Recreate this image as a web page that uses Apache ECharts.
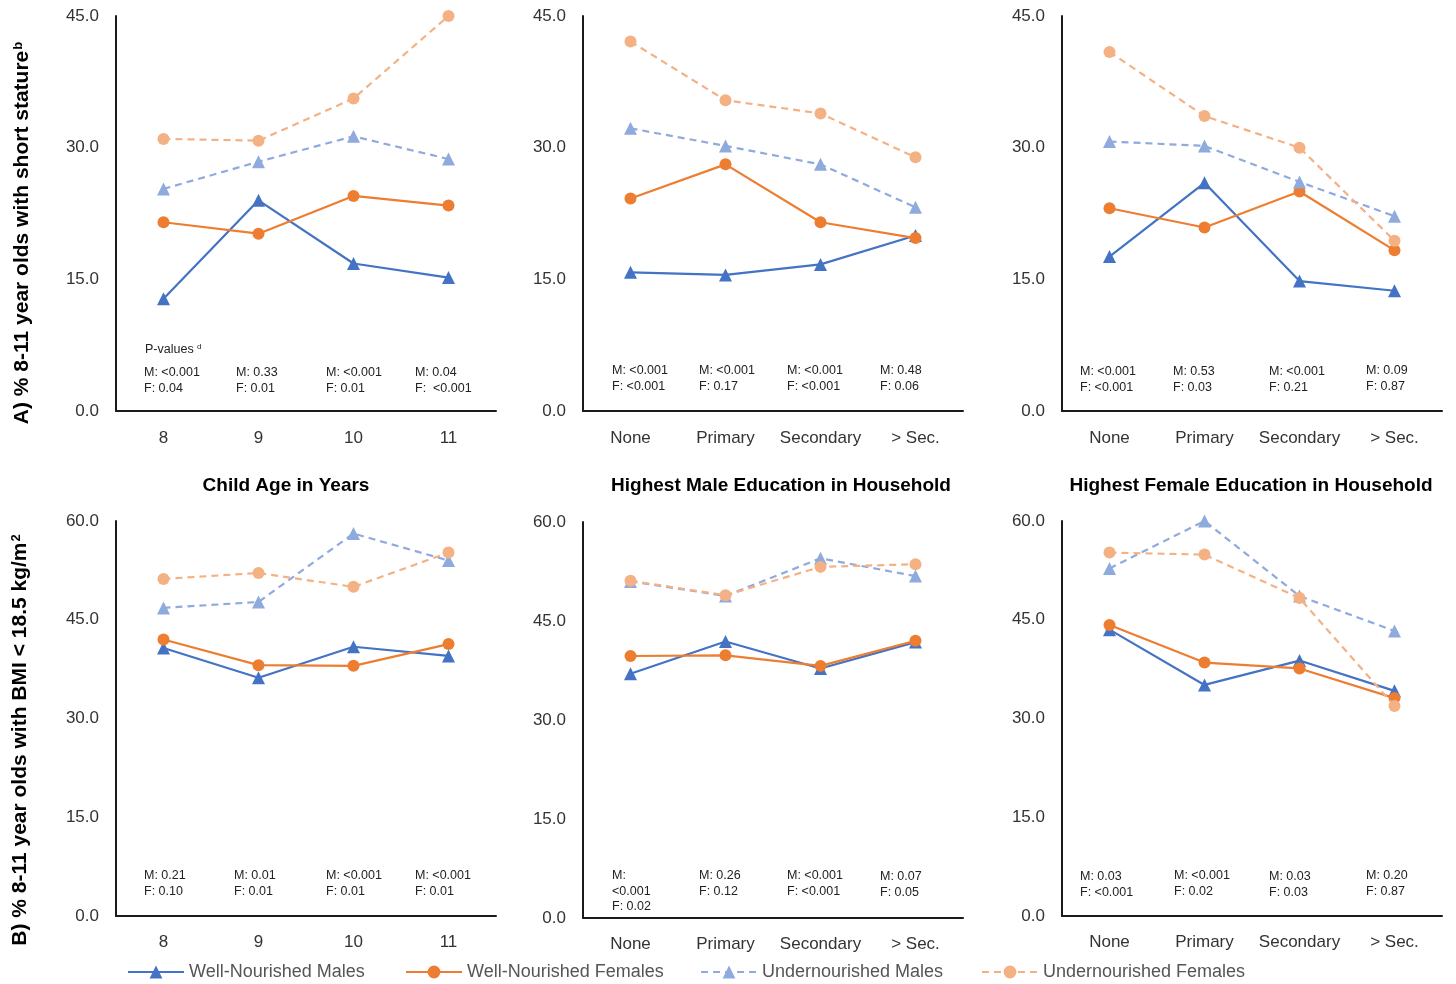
<!DOCTYPE html>
<html>
<head>
<meta charset="utf-8">
<script src="https://cdn.jsdelivr.net/npm/echarts@6/dist/echarts.min.js"></script>
<style>
html,body{margin:0;padding:0;background:#fff;}
#c{width:1456px;height:984px;}
</style>
</head>
<body>
<div id="c"></div>
<script>
// ---------- DATA ----------
const ageCats = ['8', '9', '10', '11'];
const eduCats = ['None', 'Primary', 'Secondary', '> Sec.'];
const seriesNames = ['Well-Nourished Males', 'Well-Nourished Females', 'Undernourished Males', 'Undernourished Females'];

const yTicksA = [0, 15, 30, 45];
const yTicksB = [0, 15, 30, 45, 60];

// A) short stature
const ssAge_WM = [12.8, 24.0, 16.8, 15.2];
const ssAge_WF = [21.5, 20.2, 24.5, 23.4];
const ssAge_UM = [25.3, 28.4, 31.3, 28.7];
const ssAge_UF = [31.0, 30.8, 35.6, 45.0];

const ssMale_WM = [15.8, 15.5, 16.7, 20.0];
const ssMale_WF = [24.2, 28.1, 21.5, 19.7];
const ssMale_UM = [32.2, 30.2, 28.1, 23.2];
const ssMale_UF = [42.1, 35.4, 33.9, 28.9];

const ssFem_WM = [17.6, 26.0, 14.8, 13.7];
const ssFem_WF = [23.1, 20.9, 25.0, 18.3];
const ssFem_UM = [30.7, 30.2, 26.1, 22.2];
const ssFem_UF = [40.9, 33.6, 30.0, 19.4];

// B) BMI < 18.5
const bmiAge_WM = [40.7, 36.2, 40.9, 39.5];
const bmiAge_WF = [42.0, 38.1, 38.0, 41.3];
const bmiAge_UM = [46.8, 47.7, 58.1, 54.0];
const bmiAge_UF = [51.2, 52.1, 50.0, 55.2];

const bmiMale_WM = [37.0, 41.9, 37.8, 41.8];
const bmiMale_WF = [39.7, 39.8, 38.2, 42.0];
const bmiMale_UM = [51.0, 48.8, 54.5, 51.8];
const bmiMale_UF = [51.1, 48.9, 53.2, 53.6];

const bmiFem_WM = [43.5, 35.1, 38.8, 34.2];
const bmiFem_WF = [44.2, 38.5, 37.6, 33.1];
const bmiFem_UM = [52.8, 60.0, 48.6, 43.3];
const bmiFem_UF = [55.2, 54.9, 48.3, 31.9];

// p-values
const pSsAge  = ['M: <0.001\nF: 0.04', 'M: 0.33\nF: 0.01', 'M: <0.001\nF: 0.01', 'M: 0.04\nF:  <0.001'];
const pSsMale = ['M: <0.001\nF: <0.001', 'M: <0.001\nF: 0.17', 'M: <0.001\nF: <0.001', 'M: 0.48\nF: 0.06'];
const pSsFem  = ['M: <0.001\nF: <0.001', 'M: 0.53\nF: 0.03', 'M: <0.001\nF: 0.21', 'M: 0.09\nF: 0.87'];
const pBmiAge  = ['M: 0.21\nF: 0.10', 'M: 0.01\nF: 0.01', 'M: <0.001\nF: 0.01', 'M: <0.001\nF: 0.01'];
const pBmiMale = ['M:\n<0.001\nF: 0.02', 'M: 0.26\nF: 0.12', 'M: <0.001\nF: <0.001', 'M: 0.07\nF: 0.05'];
const pBmiFem  = ['M: 0.03\nF: <0.001', 'M: <0.001\nF: 0.02', 'M: 0.03\nF: 0.03', 'M: 0.20\nF: 0.87'];

const panelTitles = ['Child Age in Years', 'Highest Male Education in Household', 'Highest Female Education in Household'];

// ---------- LAYOUT ----------
const FONT = '"Liberation Sans", Arial, sans-serif';
const colors = ['#4472C4', '#ED7D31', '#8FAADC', '#F4B183'];
const symbols = ['triangle', 'circle', 'triangle', 'circle'];
const dashed = [false, false, true, true];

const panels = [
  {cats: ageCats,  max: 45, left: 116,  top: 16,  h: 395, data: [ssAge_WM, ssAge_WF, ssAge_UM, ssAge_UF]},
  {cats: eduCats,  max: 45, left: 583,  top: 16,  h: 395, data: [ssMale_WM, ssMale_WF, ssMale_UM, ssMale_UF]},
  {cats: eduCats,  max: 45, left: 1062, top: 16,  h: 395, data: [ssFem_WM, ssFem_WF, ssFem_UM, ssFem_UF]},
  {cats: ageCats,  max: 60, left: 116,  top: 521, h: 395, data: [bmiAge_WM, bmiAge_WF, bmiAge_UM, bmiAge_UF]},
  {cats: eduCats,  max: 60, left: 583,  top: 522, h: 396, data: [bmiMale_WM, bmiMale_WF, bmiMale_UM, bmiMale_UF]},
  {cats: eduCats,  max: 60, left: 1062, top: 521, h: 395, data: [bmiFem_WM, bmiFem_WF, bmiFem_UM, bmiFem_UF]}
];

const pTexts = [pSsAge, pSsMale, pSsFem, pBmiAge, pBmiMale, pBmiFem];
const pX = [[144, 236, 326, 415], [612, 699, 787, 880], [1080, 1173, 1269, 1366],
            [144, 234, 326, 415], [612, 699, 787, 880], [1080, 1174, 1269, 1366]];
const pY = [[373, 373, 373, 373], [371, 371, 371, 371], [372, 372, 372, 371],
            [876, 876, 876, 876], [876, 876, 876, 877], [877, 876, 877, 876]];

const grids = [], xAxes = [], yAxes = [], series = [];
panels.forEach((p, i) => {
  grids.push({left: p.left, top: p.top, width: 380, height: p.h});
  xAxes.push({
    type: 'category', gridIndex: i, data: p.cats, boundaryGap: true,
    axisLine: {show: true, lineStyle: {color: '#1a1a1a', width: 2}},
    axisTick: {show: false},
    axisLabel: {fontFamily: FONT, fontSize: 17, color: '#333', margin: i < 3 ? 19 : 18,
      interval: 0, hideOverlap: false}
  });
  yAxes.push({
    type: 'value', gridIndex: i, min: 0, max: p.max, interval: 15,
    axisLine: {show: true, lineStyle: {color: '#1a1a1a', width: 2}},
    axisTick: {show: false},
    splitLine: {show: false},
    axisLabel: {fontFamily: FONT, fontSize: 17, color: '#333', margin: 17,
      formatter: v => v.toFixed(1)}
  });
  p.data.forEach((d, k) => {
    series.push({
      name: seriesNames[k], type: 'line', xAxisIndex: i, yAxisIndex: i,
      data: d, symbol: symbols[k], symbolSize: symbols[k] === 'circle' ? 12 : 13,
      color: colors[k],
      lineStyle: {color: colors[k], width: 2.2, type: dashed[k] ? [7, 5] : 'solid'},
      itemStyle: {color: colors[k]},
      emphasis: {disabled: true},
      animation: false, z: 2 + k
    });
  });
});

const graphics = [];
pTexts.forEach((arr, i) => {
  arr.forEach((t, j) => {
    graphics.push({
      type: 'text', x: pX[i][j], y: pY[i][j] - 8,
      style: {text: t, font: '12.5px ' + FONT, fill: '#222', lineHeight: 15.5, verticalAlign: 'top', align: 'left'}
    });
  });
});
graphics.push({
  type: 'text', x: 145, y: 350,
  style: {
    text: '{a|P-values }{s|d}',
    verticalAlign: 'middle', align: 'left',
    rich: {
      a: {fontFamily: FONT, fontSize: 12.5, fill: '#222', color: '#222'},
      s: {fontFamily: FONT, fontSize: 8, fill: '#222', color: '#222', verticalAlign: 'top', padding: [0, 0, 6, 0]}
    }
  }
});
// panel titles
const titleX = [286, 781, 1251];
panelTitles.forEach((t, i) => {
  graphics.push({
    type: 'text', x: titleX[i], y: 486,
    style: {text: t, font: 'bold 19px ' + FONT, fill: '#000', align: 'center', verticalAlign: 'middle'}
  });
});
// y-axis names
graphics.push({
  type: 'text', x: 22, y: 233, rotation: Math.PI / 2,
  style: {
    text: '{a|A) % 8-11 year olds with short stature}{s|b}',
    align: 'center', verticalAlign: 'middle',
    rich: {
      a: {fontFamily: FONT, fontWeight: 'bold', fontSize: 21, color: '#000'},
      s: {fontFamily: FONT, fontWeight: 'bold', fontSize: 13, color: '#000', verticalAlign: 'top', padding: [0, 0, 8, 1]}
    }
  }
});
graphics.push({
  type: 'text', x: 20, y: 740, rotation: Math.PI / 2,
  style: {
    text: '{a|B) % 8-11 year olds with BMI < 18.5 kg/m}{s|2}',
    align: 'center', verticalAlign: 'middle',
    rich: {
      a: {fontFamily: FONT, fontWeight: 'bold', fontSize: 21, color: '#000'},
      s: {fontFamily: FONT, fontWeight: 'bold', fontSize: 13, color: '#000', verticalAlign: 'top', padding: [0, 0, 8, 1]}
    }
  }
});

const legendLeft = [127, 405, 700, 981];
const legends = seriesNames.map((n, k) => ({
  data: [n], left: legendLeft[k], top: 963, itemWidth: 56, itemHeight: 16,
  textStyle: {fontFamily: FONT, fontSize: 18, color: '#555'},
  selectedMode: false, padding: 0
}));

const chart = echarts.init(document.getElementById('c'), null, {renderer: 'canvas'});
chart.setOption({
  backgroundColor: '#fff',
  animation: false,
  grid: grids, xAxis: xAxes, yAxis: yAxes, series: series,
  legend: legends,
  graphic: graphics
});
</script>
</body>
</html>
